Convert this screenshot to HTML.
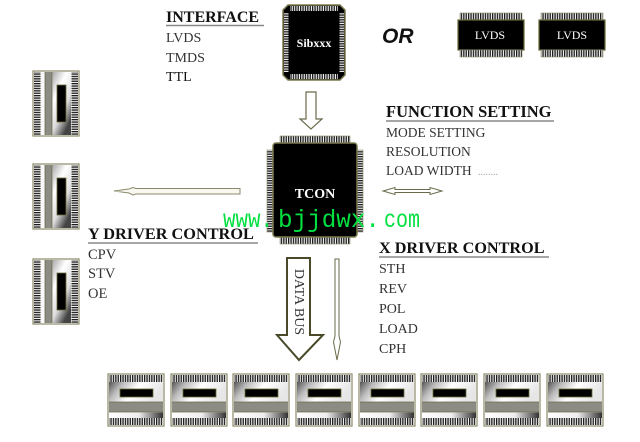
<!DOCTYPE html>
<html><head><meta charset="utf-8"><style>
html,body{margin:0;padding:0;background:#fff;}
svg{display:block;}
</style></head><body>
<svg width="640" height="442" viewBox="0 0 640 442" xmlns="http://www.w3.org/2000/svg" font-family="'Liberation Serif', serif">
<defs>
  <pattern id="pv" width="2.4" height="20" patternUnits="userSpaceOnUse">
    <rect width="2.4" height="20" fill="#f4f4f4"/><rect width="1.3" height="20" fill="#1a1a1a"/>
  </pattern>
  <pattern id="ph" width="20" height="2.4" patternUnits="userSpaceOnUse">
    <rect width="20" height="2.4" fill="#f4f4f4"/><rect width="20" height="1.3" fill="#1a1a1a"/>
  </pattern>
  <linearGradient id="gb" x1="0" y1="0" x2="1" y2="0.3">
    <stop offset="0" stop-color="#555"/><stop offset="0.25" stop-color="#bbb"/>
    <stop offset="0.55" stop-color="#fff"/><stop offset="1" stop-color="#e6e6e6"/>
  </linearGradient>
  <linearGradient id="gw" x1="0" y1="0" x2="1" y2="0">
    <stop offset="0" stop-color="#fff"/><stop offset="0.55" stop-color="#eee"/><stop offset="1" stop-color="#333"/>
  </linearGradient>
  <linearGradient id="gbv" x1="0" y1="0" x2="0.6" y2="1">
    <stop offset="0" stop-color="#aaa"/><stop offset="0.35" stop-color="#fff"/>
    <stop offset="0.7" stop-color="#ddd"/><stop offset="1" stop-color="#444"/>
  </linearGradient>
  <g id="bc">
    <rect x="0" y="0" width="56" height="52" fill="#fff" stroke="#8a8a6a" stroke-width="1.2"/>
    <rect x="1" y="1" width="54" height="7" fill="url(#pv)"/>
    <rect x="1" y="8" width="54" height="20" fill="url(#gb)"/>
    <rect x="12" y="15" width="33" height="8" fill="#000" stroke="#6a6a3a" stroke-width="0.8"/>
    <rect x="1" y="28" width="54" height="10" fill="#8c8c84"/>
    <line x1="1" y1="28" x2="55" y2="28" stroke="#6a6a4a" stroke-width="0.8"/>
    <line x1="1" y1="38" x2="55" y2="38" stroke="#6a6a4a" stroke-width="0.8"/>
    <rect x="1" y="38.5" width="54" height="5.5" fill="url(#gw)"/>
    <rect x="1" y="44" width="54" height="7" fill="url(#pv)"/>
  </g>
  <g id="lc">
    <rect x="0" y="0" width="46" height="65" fill="#fff" stroke="#8a8a6a" stroke-width="1.2"/>
    <rect x="1" y="1" width="6.5" height="63" fill="url(#ph)"/>
    <rect x="7.5" y="1" width="4.5" height="63" fill="#fafafa"/>
    <rect x="12" y="1" width="7" height="63" fill="#8c8c84"/>
    <line x1="12" y1="1" x2="12" y2="64" stroke="#6a6a4a" stroke-width="0.8"/>
    <line x1="19" y1="1" x2="19" y2="64" stroke="#6a6a4a" stroke-width="0.8"/>
    <rect x="19.5" y="1" width="18.5" height="63" fill="url(#gbv)"/>
    <rect x="24" y="14" width="9" height="37" fill="#000" stroke="#6a6a3a" stroke-width="0.8"/>
    <rect x="38.5" y="1" width="6.5" height="63" fill="url(#ph)"/>
  </g>
</defs>

<!-- INTERFACE -->
<text x="166" y="22" font-size="16" font-weight="bold" fill="#111">INTERFACE</text>
<line x1="166" y1="25.5" x2="264" y2="25.5" stroke="#888" stroke-width="1.4"/>
<text x="166" y="42" font-size="14" fill="#333">LVDS</text>
<text x="166" y="62" font-size="14" fill="#333">TMDS</text>
<text x="166" y="81" font-size="14" fill="#111">TTL</text>

<!-- Sibxxx chip -->
<polygon points="288,5 340,5 345,10 345,75 340,80 288,80 283,75 283,10" fill="#000" stroke="#7a7a50" stroke-width="1.5"/>
<rect x="290" y="6" width="48" height="5" fill="url(#pv)"/>
<rect x="290" y="74" width="48" height="5" fill="url(#pv)"/>
<rect x="284" y="13" width="4.5" height="59" fill="url(#ph)"/>
<rect x="339.5" y="13" width="4.5" height="59" fill="url(#ph)"/>
<text x="314" y="47" font-size="12" font-weight="bold" fill="#fff" text-anchor="middle">Sibxxx</text>

<!-- OR -->
<text x="382" y="43" font-family="'Liberation Sans', sans-serif" font-size="21" font-weight="bold" font-style="italic" fill="#111">OR</text>

<!-- LVDS chips -->
<rect x="460" y="13" width="62" height="7" fill="url(#pv)" stroke="#8a8a6a" stroke-width="0.6"/>
<rect x="458" y="20" width="66" height="30" fill="#000" stroke="#6a6a3a" stroke-width="1.2"/>
<rect x="460" y="50" width="62" height="7" fill="url(#pv)" stroke="#8a8a6a" stroke-width="0.6"/>
<text x="490" y="39" font-size="12" fill="#fff" text-anchor="middle">LVDS</text>
<rect x="541" y="13" width="62" height="7" fill="url(#pv)" stroke="#8a8a6a" stroke-width="0.6"/>
<rect x="539" y="20" width="66" height="30" fill="#000" stroke="#6a6a3a" stroke-width="1.2"/>
<rect x="541" y="50" width="62" height="7" fill="url(#pv)" stroke="#8a8a6a" stroke-width="0.6"/>
<text x="572" y="39" font-size="12" fill="#fff" text-anchor="middle">LVDS</text>

<!-- Left chips -->
<use href="#lc" x="33" y="71"/>
<use href="#lc" x="33" y="164"/>
<use href="#lc" x="33" y="259"/>

<!-- Down arrow Sibxxx -> TCON -->
<polygon points="306,92 316,92 316,119 322,119 311,129 300,119 306,119" fill="#fff" stroke="#6a6a4a" stroke-width="1.2"/>

<!-- FUNCTION SETTING -->
<text x="386" y="117" font-size="16.5" font-weight="bold" fill="#111">FUNCTION SETTING</text>
<line x1="386" y1="121" x2="554" y2="121" stroke="#888" stroke-width="1.4"/>
<text x="386" y="137" font-size="13.5" fill="#333">MODE SETTING</text>
<text x="386" y="156" font-size="13.5" fill="#333">RESOLUTION</text>
<text x="386" y="175" font-size="13.5" fill="#333">LOAD WIDTH</text>
<text x="478" y="175" font-size="10" fill="#aaa">........</text>

<!-- TCON chip -->
<rect x="280" y="136" width="70" height="7" fill="url(#pv)" stroke="#8a8a6a" stroke-width="0.6"/>
<rect x="280" y="237" width="70" height="7" fill="url(#pv)" stroke="#8a8a6a" stroke-width="0.6"/>
<rect x="267" y="150" width="6" height="82" fill="url(#ph)" stroke="#8a8a6a" stroke-width="0.6"/>
<rect x="357" y="150" width="6" height="82" fill="url(#ph)" stroke="#8a8a6a" stroke-width="0.6"/>
<rect x="273" y="143" width="84" height="94" rx="3" fill="#000" stroke="#7a7a50" stroke-width="1.5"/>
<text x="315" y="198" font-size="14" font-weight="bold" fill="#fff" text-anchor="middle">TCON</text>

<!-- Left arrow -->
<polygon points="114,191 129,189 133,187.5 136,188.5 240,188.5 240,194 136,194 133,195 129,193" fill="#f8f8f0" stroke="#8a8a6a" stroke-width="1"/>

<!-- Right double arrow -->
<polygon points="383,191 395,187.5 395,189.5 430,189.5 430,187.5 442,191 430,194.5 430,192.5 395,192.5 395,194.5" fill="#fff" stroke="#6a6a4a" stroke-width="1"/>

<!-- Y DRIVER CONTROL -->
<text x="88" y="239" font-size="16.3" font-weight="bold" fill="#111">Y DRIVER CONTROL</text>
<line x1="88" y1="243" x2="258" y2="243" stroke="#888" stroke-width="1.4"/>
<text x="88" y="259" font-size="14.5" fill="#333">CPV</text>
<text x="88" y="278" font-size="14.5" fill="#333">STV</text>
<text x="88" y="298" font-size="14.5" fill="#333">OE</text>

<!-- X DRIVER CONTROL -->
<text x="379" y="253" font-size="16.2" font-weight="bold" fill="#111">X DRIVER CONTROL</text>
<line x1="379" y1="257" x2="549" y2="257" stroke="#888" stroke-width="1.4"/>
<text x="379" y="273" font-size="14" fill="#333">STH</text>
<text x="379" y="293" font-size="14" fill="#333">REV</text>
<text x="379" y="313" font-size="14" fill="#333">POL</text>
<text x="379" y="333" font-size="14" fill="#333">LOAD</text>
<text x="379" y="353" font-size="14" fill="#333">CPH</text>

<!-- DATA BUS arrow -->
<polygon points="287,258 310,258 310,335 323,335 299,360 277,335 287,335" fill="#fff" stroke="#4a4a2a" stroke-width="2"/>
<text x="0" y="0" font-size="14" fill="#333" text-anchor="middle" transform="translate(295,302) rotate(90)">DATA BUS</text>

<!-- thin arrow -->
<polygon points="335,259 339,259 339,336 340.5,342 337,360 333.5,342 335,336" fill="#fff" stroke="#6a6a4a" stroke-width="1"/>

<!-- Bottom chips -->
<use href="#bc" x="108" y="374"/>
<use href="#bc" x="171" y="374"/>
<use href="#bc" x="233" y="374"/>
<use href="#bc" x="296" y="374"/>
<use href="#bc" x="359" y="374"/>
<use href="#bc" x="421" y="374"/>
<use href="#bc" x="484" y="374"/>
<use href="#bc" x="547" y="374"/>

<!-- watermark -->
<g font-family="'Liberation Mono', monospace" font-size="25" fill="#00e040">
<text x="223" y="227" textLength="50" lengthAdjust="spacingAndGlyphs">www.</text>
<text x="278" y="227" textLength="102" lengthAdjust="spacingAndGlyphs">bjjdwx.</text>
<text x="384" y="227" textLength="36" lengthAdjust="spacingAndGlyphs">com</text>
</g>
</svg>
</body></html>
